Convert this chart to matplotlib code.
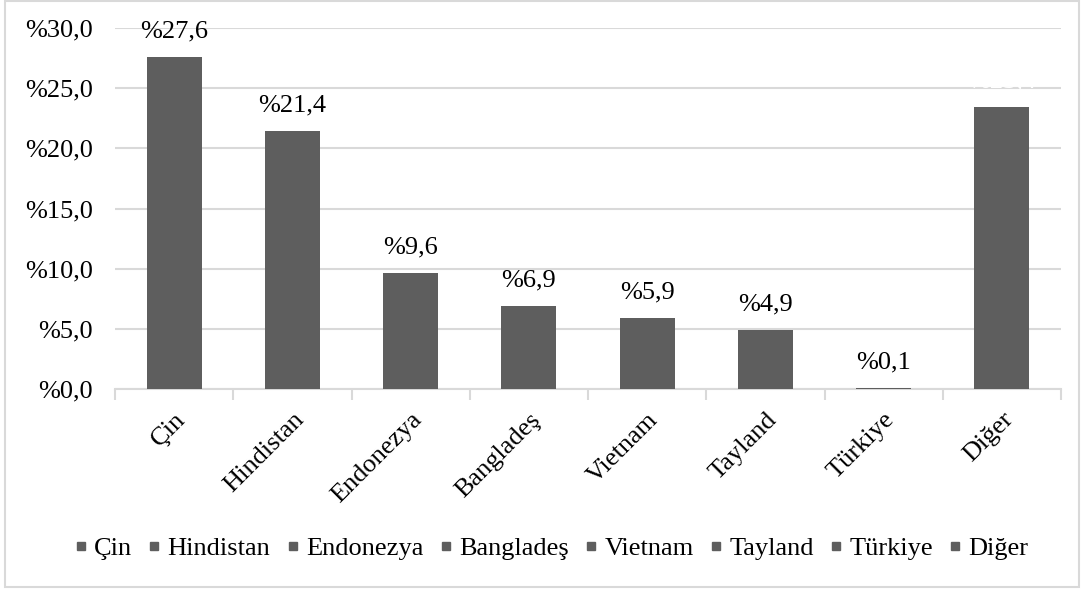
import matplotlib.pyplot as plt
from matplotlib.lines import Line2D
from matplotlib.patches import Rectangle
import numpy as np

plt.rcParams['font.family'] = ['Liberation Serif', 'DejaVu Serif']

# Ülkelere göre pay (%)
countries = ["Çin", "Hindistan", "Endonezya", "Bangladeş", "Vietnam", "Tayland", "Türkiye", "Diğer"]
shares = [27.6, 21.4, 9.6, 6.9, 5.9, 4.9, 0.1, 23.4]
label_colors = ["#000000"] * 7 + ["#ffffff"]

bar_color = "#5e5e5e"
grid_color = "#d9d9d9"
fs = 19

fig = plt.figure(figsize=(10.83, 5.92), dpi=100)
ax = fig.add_axes([115 / 1083, 1 - 389 / 592, 946 / 1083, 361 / 592])

x = np.arange(len(countries))
bars = ax.bar(x, shares, width=0.465, color=bar_color, zorder=3)

for rect, val, c in zip(bars, shares, label_colors):
    ax.annotate("%" + f"{val:.1f}".replace(".", ","),
                (rect.get_x() + rect.get_width() / 2, rect.get_height()),
                xytext=(0, 10.5), textcoords="offset points",
                ha="center", va="bottom", fontsize=fs, color=c, zorder=4)

ax.set_xlim(-0.5, len(countries) - 0.5)
ax.set_ylim(0, 30)
ax.set_yticks(np.arange(0, 30.1, 5))
ax.set_yticklabels(["%" + f"{v:.1f}".replace(".", ",") for v in np.arange(0, 30.1, 5)], fontsize=fs)
ax.tick_params(axis="y", length=0, pad=16)
ax.yaxis.grid(True, color=grid_color, linewidth=1.5, zorder=0)

# kategori sınırlarında aşağı doğru tikler
ax.set_xticks(np.arange(-0.5, len(countries)), minor=False)
ax.set_xticklabels([])
ax.tick_params(axis="x", which="major", length=8, color=grid_color, width=1.5, direction="out")
ax.set_xticks(x, minor=True)
ax.set_xticklabels(countries, minor=True, fontsize=fs, rotation=45, ha="right", rotation_mode="anchor")
ax.tick_params(axis="x", which="minor", length=0, pad=14)

for s in ["left", "right", "top"]:
    ax.spines[s].set_visible(False)
ax.spines["bottom"].set_color(grid_color)
ax.spines["bottom"].set_linewidth(1.5)

handles = [Line2D([], [], marker="s", linestyle="", color=bar_color, markersize=5.8) for _ in countries]
fig.legend(handles, countries, loc="center", bbox_to_anchor=(552 / 1083, 1 - 548 / 592),
           ncol=len(countries), frameon=False, fontsize=fs, handlelength=0.4,
           handletextpad=0.3, columnspacing=0.65, borderpad=0)

fig.patches.append(Rectangle((5 / 1083, 5 / 592), 1074 / 1083, 586 / 592, transform=fig.transFigure,
                             fill=False, edgecolor=grid_color, linewidth=1.5))

fig.savefig("out.png", dpi=100)
